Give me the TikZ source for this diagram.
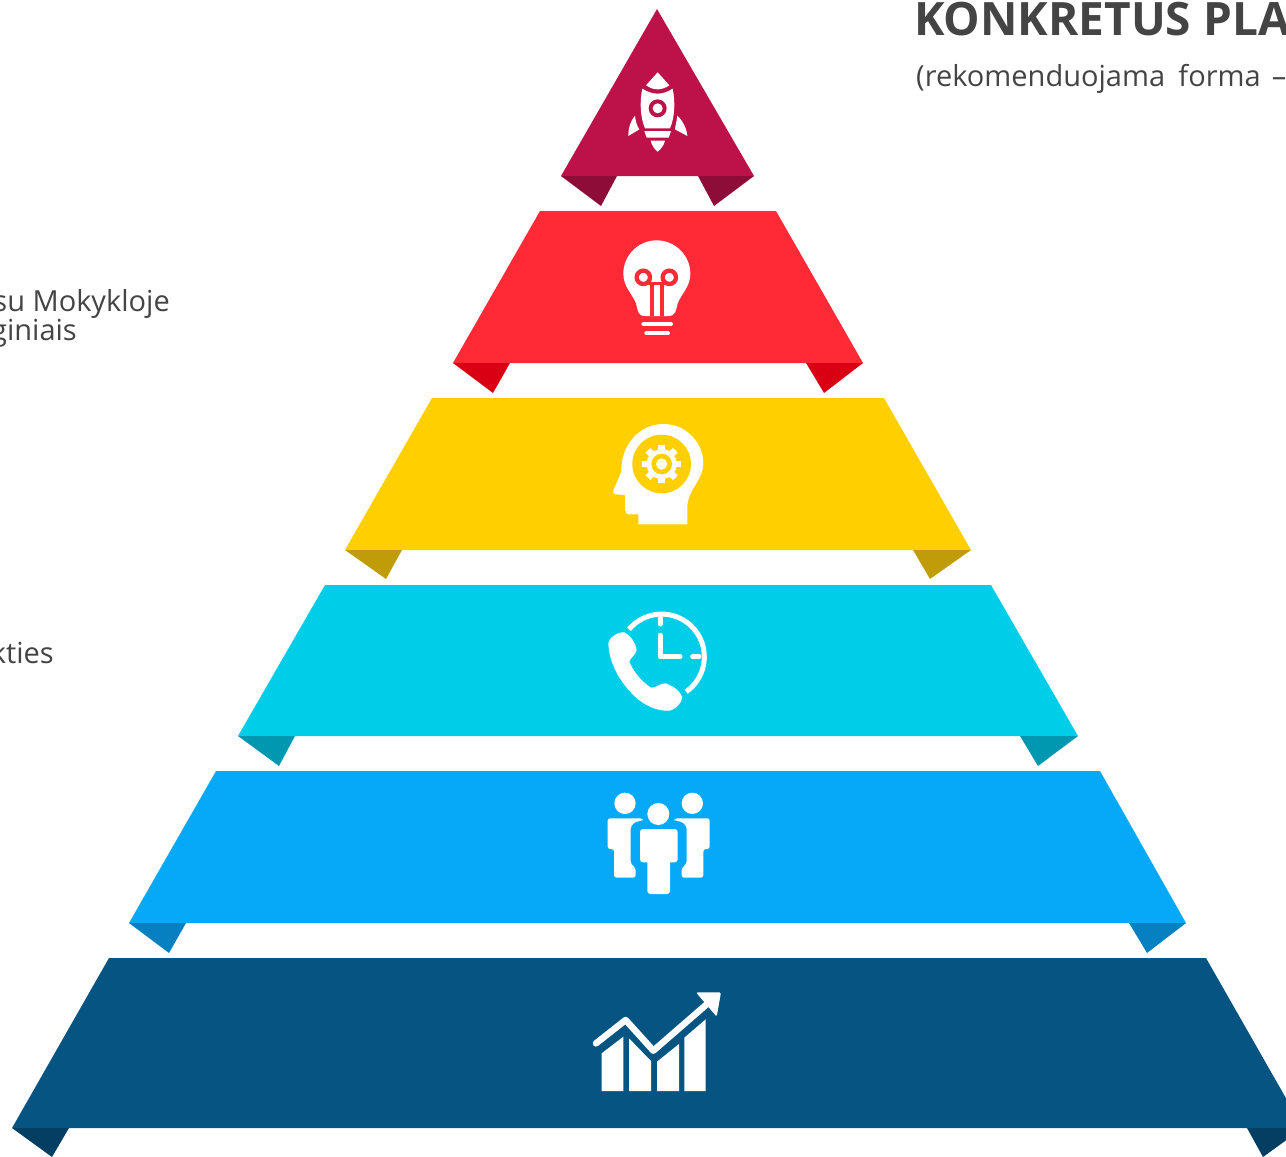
\documentclass[tikz,border=0pt]{standalone}
\usepackage{fontspec}
\setmainfont{Open Sans}
\definecolor{ink}{HTML}{444444}
\definecolor{cRoc}{HTML}{BC1249}\definecolor{fRoc}{HTML}{8E0C38}
\definecolor{cRed}{HTML}{FF2A36}\definecolor{fRed}{HTML}{D80012}
\definecolor{cYel}{HTML}{FFCF00}\definecolor{fYel}{HTML}{C09D08}
\definecolor{cCya}{HTML}{00CDE8}\definecolor{fCya}{HTML}{0098B0}
\definecolor{cBlu}{HTML}{05A9F8}\definecolor{fBlu}{HTML}{0680C0}
\definecolor{cNav}{HTML}{065482}\definecolor{fNav}{HTML}{043E62}
\tikzset{
 px/.style={x=1pt,y=-1pt},
 zoomed/.style={shift={(#1)},x=0.33333pt,y=-0.33333pt},
 ico/.style={fill=white,draw=none},
 txt/.style={text=ink,inner sep=0pt,font=\fontsize{29}{30}\selectfont},
}
\begin{document}
\begin{tikzpicture}[px]
\useasboundingbox (0,0) rectangle (1286,1157);
\clip (0,0) rectangle (1286,1157);
% bands
\fill[cRoc] (657,9)--(754,176)--(561,176)--cycle;
\fill[fRoc] (561,176)--(617,176)--(601,206)--cycle (754,176)--(698,176)--(714,206)--cycle;
\fill[cRed] (540,211)--(776,211)--(863,363)--(453,363)--cycle;
\fill[fRed] (453,363)--(510,363)--(493,393)--cycle (863,363)--(806,363)--(824,393)--cycle;
\fill[cYel] (432,398)--(884,398)--(971,550)--(345,550)--cycle;
\fill[fYel] (345,550)--(402,550)--(386,579)--cycle (971,550)--(913,550)--(930,579)--cycle;
\fill[cCya] (325,585)--(991,585)--(1078,736)--(238,736)--cycle;
\fill[fCya] (238,736)--(295,736)--(279,766)--cycle (1078,736)--(1020,736)--(1038,766)--cycle;
\fill[cBlu] (216,771)--(1100,771)--(1186,923)--(129,923)--cycle;
\fill[fBlu] (129,923)--(186,923)--(169,953)--cycle (1186,923)--(1129,923)--(1147,953)--cycle;
\fill[cNav] (109,958)--(1206,958)--(1303,1128)--(12,1128)--cycle;
\fill[fNav] (12,1128)--(69,1128)--(52,1157)--cycle (1303,1128)--(1247,1128)--(1263,1157)--cycle;
% rocket
\begin{scope}[zoomed={590,50}]
\fill[ico] (203,67)--(238,106) .. controls (215,122) and (191,122) .. (168,106)--cycle;
\fill[ico] (157,116) .. controls (188,136) and (218,136) .. (248,116) .. controls (256,155) and (255,200) .. (240,235)--(165,235) .. controls (150,200) and (149,155) .. (157,116)--cycle;
\fill[cRoc] (203,175) circle (27);
\fill[ico] (203,175) circle (15);
\fill[ico] (163,243)--(243,243)--(236,263)--(170,263)--cycle;
\fill[ico] (182,272)--(225,272) .. controls (222,286) and (213,297) .. (203,305) .. controls (193,297) and (185,286) .. (182,272)--cycle;
\fill[ico] (135,197) .. controls (137,215) and (141,228) .. (148,238)--(115,258) .. controls (114,235) and (122,212) .. (135,197)--cycle;
\fill[ico] (262,197) .. controls (260,215) and (256,228) .. (255,238)--(292,258) .. controls (290,235) and (278,212) .. (262,197)--cycle;
\end{scope}
% bulb
\begin{scope}[zoomed={600,230}]
\fill[ico] (170,31) .. controls (225,31) and (271,76) .. (271,131) .. controls (271,170) and (245,190) .. (233,220) .. controls (228,240) and (228,258) .. (205,258)--(135,258) .. controls (112,258) and (114,240) .. (108,220) .. controls (96,190) and (70,170) .. (70,131) .. controls (70,76) and (115,31) .. (170,31)--cycle;
\draw[cRed,line width=4.3pt] (130,142) circle (20) (208,142) circle (20);
\draw[cRed,line width=3.7pt] (156,160)--(156,258) (185,160)--(185,258);
\draw[cRed,line width=2.5pt] (130,160)--(208,160);
\draw[white,line width=4pt,line cap=round] (130,282)--(213,282) (139,310)--(204,310);
\end{scope}
% head
\begin{scope}[zoomed={600,415}]
\fill[ico] (115,328)--(115,298)--(90,298) .. controls (80,298) and (75,292) .. (75,283)--(75,240)--(47,238) .. controls (40,238) and (37,233) .. (40,227)--(64,170) .. controls (62,90) and (118,27) .. (190,27) .. controls (260,27) and (310,85) .. (310,145) .. controls (310,195) and (262,225) .. (262,275)--(262,328)--cycle;
\fill[cYel] (185,147) circle (88);
\fill[ico] (185,147) circle (45);
\foreach \a in {0,45,...,315}
  \fill[ico,rotate around={\a:(185,147)}] (175,89) rectangle (195,115);
\fill[cYel] (185,147) circle (31);
\fill[ico] (185,147) circle (17);
\end{scope}
% phone and clock
\begin{scope}[zoomed={595,600}]
\coordinate (clockstart) at (102,88);
\draw[white,line width=5pt] (clockstart) arc[start angle=220,end angle=415,radius=128];
\draw[white,line width=5pt,line cap=round,line join=round] (195,106)--(195,170)--(255,170) (195,50)--(195,72) (293,170)--(312,170);
\fill[ico] (40,130) .. controls (42,112) and (70,95) .. (88,97) .. controls (105,105) and (120,125) .. (125,150) .. controls (122,165) and (105,175) .. (103,185) .. controls (115,215) and (140,245) .. (168,263) .. controls (185,265) and (195,248) .. (212,250) .. controls (235,258) and (255,272) .. (262,292) .. controls (260,310) and (240,328) .. (225,332) .. controls (185,335) and (145,315) .. (115,285) .. controls (75,245) and (42,190) .. (40,130)--cycle;
\end{scope}
% people
\begin{scope}[zoomed={595,785}]
\fill[ico] (90,55) circle (32) (292,55) circle (32) (190,87) circle (33);
\fill[ico,rounded corners=3pt] (135,132) rectangle (248,232);
\fill[ico,rounded corners=3pt] (157,200) rectangle (225,327);
\fill[ico,rounded corners=2.5pt] (38,100)--(143,100)--(143,108) .. controls (120,108) and (107,120) .. (107,140)--(107,235)--(122,250)--(122,278)--(57,278)--(57,192)--(38,192)--cycle;
\fill[ico,rounded corners=2.5pt] (344,100)--(239,100)--(239,108) .. controls (262,108) and (275,120) .. (275,140)--(275,235)--(260,250)--(260,278)--(325,278)--(325,192)--(344,192)--cycle;
\end{scope}
% chart
\begin{scope}[zoomed={585,985}]
\fill[ico] (50,205)--(115,155)--(115,318)--(50,318)--cycle;
\fill[ico] (132,160)--(198,228)--(198,318)--(132,318)--cycle;
\fill[ico] (216,230)--(282,177)--(282,318)--(216,318)--cycle;
\fill[ico] (298,158)--(362,103)--(362,318)--(298,318)--cycle;
\draw[white,line width=6.5pt,line cap=round,line join=round] (33,175)--(122,105)--(205,197)--(372,52);
\fill[ico,rounded corners=1.5pt] (333,22)--(408,22)--(395,95)--cycle;
\end{scope}
% texts
\node[txt,anchor=base west,font=\bfseries\fontsize{46}{46}\selectfont] (title) at (914,35) {KONKRETUS PLANAS};
\node[txt,anchor=base west] (sub) at (916,86) {(rekomenduojama\hspace{0.2em} forma\hspace{0.12em} –};
\node[txt,anchor=base east] (l1) at (170,311) {su Mokykloje};
\node[txt,anchor=base east] (l2) at (77,340.5) {giniais};
\node[txt,anchor=base east] (l3) at (54,663) {kties};
\end{tikzpicture}
\end{document}
